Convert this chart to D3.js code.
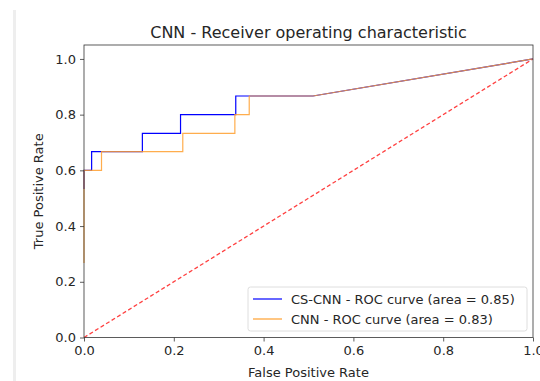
<!DOCTYPE html>
<html>
<head>
<meta charset="utf-8">
<script src="https://cdn.jsdelivr.net/npm/d3@7"></script>
<style>
  body { margin: 0; background: #fff; }
  text { font-family: "DejaVu Sans", sans-serif; fill: #262626; }
</style>
</head>
<body>
<svg id="chart" width="540" height="381"></svg>
<script>
// ROC points
const csFpr  = [0, 0, 0.017, 0.017, 0.130, 0.130, 0.215, 0.215, 0.338, 0.338, 0.51, 1];
const csTpr  = [0.533, 0.6, 0.6, 0.667, 0.667, 0.733, 0.733, 0.8, 0.8, 0.867, 0.867, 1];
const cnnFpr = [0, 0, 0.039, 0.039, 0.220, 0.220, 0.336, 0.336, 0.368, 0.368, 0.51, 1];
const cnnTpr = [0.267, 0.6, 0.6, 0.667, 0.667, 0.733, 0.733, 0.8, 0.8, 0.867, 0.867, 1];
const chanceX = [0, 1];
const chanceY = [0, 1];
const xTicks = [0, 0.2, 0.4, 0.6, 0.8, 1.0];
const yTicks = [0, 0.2, 0.4, 0.6, 0.8, 1.0];
const legendLabels = ["CS-CNN - ROC curve (area = 0.85)", "CNN - ROC curve (area = 0.83)"];
const colors = ["#0000ff", "#ff9f2e"];

var svg = d3.select("#chart");
var margin = {top: 45, right: 7, bottom: 43.5, left: 84};
var width = 540 - margin.left - margin.right;
var height = 381 - margin.top - margin.bottom;

// notebook gutter strip on the left
svg.append("rect").attr("x", 13).attr("y", 10).attr("width", 3).attr("height", 371)
  .attr("fill", "#eeeeee");

var g = svg.append("g").attr("transform", `translate(${margin.left},${margin.top})`);

var x = d3.scaleLinear().domain([0, 1]).range([0, width]);
var y = d3.scaleLinear().domain([0, 1.05]).range([height, 0]);

var line = d3.line().x(d => x(d[0])).y(d => y(d[1]));

var series = [
  d3.zip(csFpr, csTpr),
  d3.zip(cnnFpr, cnnTpr)
];

// diagonal
g.append("path")
  .datum(d3.zip(chanceX, chanceY))
  .attr("d", line)
  .attr("fill", "none")
  .attr("stroke", "#ff0000")
  .attr("stroke-opacity", 0.75)
  .attr("stroke-width", 1.3)
  .attr("stroke-dasharray", "4,2.5");

series.forEach(function(s, i) {
  g.append("path")
    .datum(s)
    .attr("d", line)
    .attr("fill", "none")
    .attr("stroke", colors[i])
    .attr("stroke-opacity", i == 1 ? 0.85 : 1)
    .attr("stroke-width", 1.2);
});

// axes
var xAxis = g.append("g")
  .attr("transform", `translate(0,${height})`)
  .call(d3.axisBottom(x).tickValues(xTicks).tickFormat(d3.format(".1f")).tickSize(4).tickPadding(4));
var yAxis = g.append("g")
  .call(d3.axisLeft(y).tickValues(yTicks).tickFormat(d3.format(".1f")).tickSize(4).tickPadding(4));

[xAxis, yAxis].forEach(function(a) {
  a.select(".domain").remove();
  a.selectAll("line").attr("stroke", "#333").attr("stroke-width", 0.8);
  a.selectAll("text").style("font-size", "13px").style("fill", "#262626")
    .style("font-family", "DejaVu Sans, sans-serif");
});

// frame
g.append("rect").attr("width", width).attr("height", height)
  .attr("fill", "none").attr("stroke", "#333").attr("stroke-width", 0.8);

// title and labels
svg.append("text").attr("x", margin.left + width / 2).attr("y", 38)
  .attr("text-anchor", "middle").style("font-size", "16px")
  .text("CNN - Receiver operating characteristic");

svg.append("text").attr("x", margin.left + width / 2).attr("y", 377)
  .attr("text-anchor", "middle").style("font-size", "13px")
  .text("False Positive Rate");

svg.append("text")
  .attr("transform", `translate(43,${margin.top + height / 2}) rotate(-90)`)
  .attr("text-anchor", "middle").style("font-size", "13px")
  .text("True Positive Rate");

// legend
var leg = g.append("g").attr("transform", `translate(${width - 285},${height - 50.5})`);
leg.append("rect").attr("width", 279).attr("height", 44).attr("rx", 2.5)
  .attr("fill", "#fff").attr("fill-opacity", 0.8)
  .attr("stroke", "#d6d6d6").attr("stroke-width", 0.8);
legendLabels.forEach(function(t, i) {
  var yy = 12 + i * 20;
  leg.append("line").attr("x1", 5).attr("x2", 34).attr("y1", yy).attr("y2", yy)
    .attr("stroke", colors[i]).attr("stroke-width", 1.2);
  leg.append("text").attr("x", 43).attr("y", yy).attr("dy", "0.35em")
    .style("font-size", "13px").text(t);
});
</script>
</body>
</html>
